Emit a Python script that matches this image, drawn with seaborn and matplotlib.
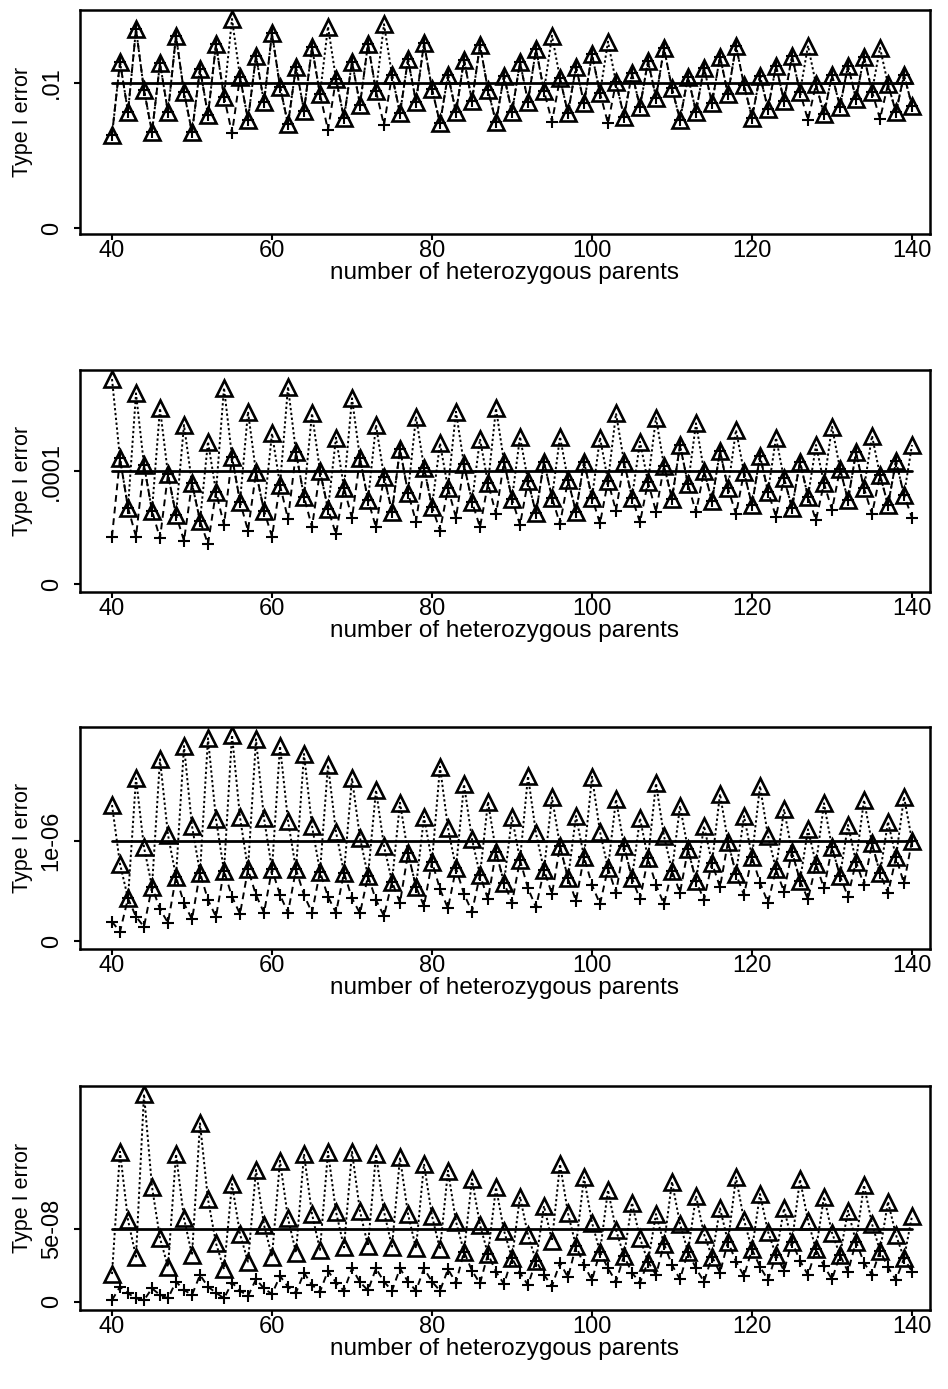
import numpy as np
import seaborn as sns
import matplotlib
matplotlib.use("Agg")
import matplotlib.pyplot as plt

# number of heterozygous parents
n_parents = list(range(40, 141))

# reference levels (nominal alpha) of the four panels
alpha_levels = [1e-2, 1e-4, 1e-6, 5e-8]
ytick_text = [["0", ".01"], ["0", ".0001"], ["0", "1e-06"], ["0", "5e-08"]]
unit = [1e-2, 1e-4, 1e-6, 1e-8]

# panel 1 (alpha = .01), values in units of 1e-2
tri1 = [0.641, 1.145, 0.800, 1.372, 0.952, 0.660, 1.136, 0.798, 1.326, 0.936,
        0.660, 1.097, 0.779, 1.267, 0.906, 1.441, 1.043, 0.745, 1.188, 0.867,
        1.343, 0.975, 0.715, 1.113, 0.807, 1.246, 0.922, 1.389, 1.028, 0.757,
        1.147, 0.850, 1.270, 0.945, 1.405, 1.055, 0.791, 1.163, 0.871, 1.274,
        0.959, 0.722, 1.055, 0.798, 1.159, 0.876, 1.262, 0.952, 0.729, 1.050,
        0.798, 1.143, 0.871, 1.234, 0.945, 1.326, 1.032, 0.791, 1.113, 0.860,
        1.198, 0.929, 1.285, 1.005, 0.768, 1.067, 0.834, 1.152, 0.899, 1.239,
        0.963, 0.745, 1.043, 0.802, 1.106, 0.860, 1.182, 0.922, 1.257, 0.986,
        0.761, 1.050, 0.821, 1.120, 0.876, 1.188, 0.936, 1.257, 0.991, 0.784,
        1.055, 0.837, 1.120, 0.890, 1.182, 0.941, 1.243, 0.991, 0.798, 1.055,
        0.844]
plus1 = [0.641, 1.145, 0.800, 1.372, 0.952, 0.660, 1.136, 0.798, 1.326, 0.936,
         0.660, 1.097, 0.779, 1.267, 0.906, 0.653, 1.043, 0.745, 1.188, 0.867,
         1.343, 0.975, 0.715, 1.113, 0.807, 1.246, 0.922, 0.676, 1.028, 0.757,
         1.147, 0.850, 1.270, 0.945, 0.710, 1.055, 0.791, 1.163, 0.871, 1.274,
         0.959, 0.722, 1.055, 0.798, 1.159, 0.876, 1.262, 0.952, 0.729, 1.050,
         0.798, 1.143, 0.871, 1.234, 0.945, 0.733, 1.032, 0.791, 1.113, 0.860,
         1.198, 0.929, 0.722, 1.005, 0.768, 1.067, 0.834, 1.152, 0.899, 1.239,
         0.963, 0.745, 1.043, 0.802, 1.106, 0.860, 1.182, 0.922, 1.257, 0.986,
         0.761, 1.050, 0.821, 1.120, 0.876, 1.188, 0.936, 0.745, 0.991, 0.784,
         1.055, 0.837, 1.120, 0.890, 1.182, 0.941, 0.752, 0.991, 0.798, 1.055,
         0.844]

# panel 2 (alpha = .0001), units of 1e-4
tri2 = [1.814, 1.112, 0.676, 1.687, 1.053, 0.649, 1.555, 0.971, 0.611, 1.407,
        0.891, 0.560, 1.260, 0.817, 1.737, 1.127, 0.728, 1.525, 0.988, 0.649,
        1.333, 0.876, 1.746, 1.165, 0.773, 1.510, 1.000, 0.664, 1.295, 0.852,
        1.643, 1.112, 0.743, 1.407, 0.950, 0.640, 1.195, 0.808, 1.481, 1.029,
        0.684, 1.245, 0.847, 1.525, 1.059, 0.728, 1.283, 0.891, 1.555, 1.082,
        0.752, 1.304, 0.912, 0.626, 1.082, 0.764, 1.304, 0.920, 0.640, 1.082,
        0.764, 1.295, 0.912, 1.510, 1.082, 0.764, 1.259, 0.903, 1.472, 1.047,
        0.752, 1.230, 0.882, 1.422, 1.000, 0.735, 1.177, 0.847, 1.363, 0.988,
        0.699, 1.135, 0.817, 1.295, 0.935, 0.676, 1.082, 0.773, 1.230, 0.891,
        1.392, 1.018, 0.743, 1.165, 0.847, 1.312, 0.965, 0.699, 1.088, 0.788,
        1.230]
plus2 = [0.419, 1.112, 0.676, 0.419, 1.053, 0.649, 0.404, 0.971, 0.611, 0.383,
         0.891, 0.560, 0.354, 0.817, 0.522, 1.127, 0.728, 0.472, 0.988, 0.649,
         0.419, 0.876, 0.575, 1.165, 0.773, 0.502, 1.000, 0.664, 0.442, 0.852,
         0.581, 1.112, 0.743, 0.502, 0.950, 0.640, 1.195, 0.808, 0.552, 1.029,
         0.684, 0.472, 0.847, 0.587, 1.059, 0.728, 0.502, 0.891, 0.617, 1.082,
         0.752, 0.522, 0.912, 0.626, 1.082, 0.764, 0.531, 0.920, 0.640, 1.082,
         0.764, 0.537, 0.912, 0.649, 1.082, 0.764, 0.546, 0.903, 0.640, 1.047,
         0.752, 1.230, 0.882, 0.634, 1.000, 0.735, 1.177, 0.847, 0.617, 0.988,
         0.699, 1.135, 0.817, 0.596, 0.935, 0.676, 1.082, 0.773, 0.566, 0.891,
         0.655, 1.018, 0.743, 1.165, 0.847, 0.617, 0.965, 0.699, 1.088, 0.788,
         0.587]

# panel 3 (alpha = 1e-06), units of 1e-6
tri3 = [1.360, 0.770, 0.427, 1.627, 0.937, 0.543, 1.817, 1.060, 0.643, 1.950,
        1.150, 0.683, 2.027, 1.217, 0.703, 2.060, 1.237, 0.717, 2.017, 1.227,
        0.717, 1.950, 1.203, 0.717, 1.870, 1.150, 0.693, 1.760, 1.093, 0.683,
        1.627, 1.032, 0.650, 1.510, 0.950, 0.593, 1.383, 0.877, 0.543, 1.243,
        0.793, 1.743, 1.127, 0.727, 1.567, 1.017, 0.660, 1.393, 0.893, 0.583,
        1.237, 0.810, 1.650, 1.077, 0.710, 1.437, 0.950, 0.627, 1.250, 0.843,
        1.643, 1.093, 0.727, 1.417, 0.950, 0.627, 1.227, 0.827, 1.577, 1.050,
        0.703, 1.350, 0.917, 0.603, 1.150, 0.783, 1.470, 0.993, 0.670, 1.250,
        0.843, 1.550, 1.050, 0.717, 1.317, 0.893, 0.603, 1.117, 0.770, 1.377,
        0.937, 0.650, 1.160, 0.793, 1.410, 0.977, 0.677, 1.193, 0.837, 1.443,
        1.003]
plus3 = [0.193, 0.093, 0.427, 0.243, 0.143, 0.543, 0.317, 0.183, 0.643, 0.377,
         0.217, 0.683, 0.410, 0.243, 0.703, 0.443, 0.270, 0.717, 0.460, 0.283,
         0.717, 0.460, 0.283, 0.717, 0.460, 0.283, 0.693, 0.443, 0.283, 0.683,
         0.427, 0.277, 0.650, 0.410, 0.250, 0.593, 0.383, 0.877, 0.543, 0.350,
         0.793, 0.517, 0.327, 0.727, 0.470, 0.293, 0.660, 0.417, 0.893, 0.583,
         0.383, 0.810, 0.527, 0.337, 0.710, 0.470, 0.950, 0.627, 0.403, 0.843,
         0.560, 0.370, 0.727, 0.483, 0.950, 0.627, 0.417, 0.827, 0.560, 0.370,
         0.703, 0.483, 0.917, 0.603, 0.410, 0.783, 0.537, 0.993, 0.670, 0.460,
         0.843, 0.583, 0.383, 0.717, 0.493, 0.893, 0.603, 0.417, 0.770, 0.527,
         0.937, 0.650, 0.443, 0.793, 0.560, 0.977, 0.677, 0.477, 0.837, 0.577,
         1.003]

# panel 4 (alpha = 5e-08), units of 1e-8
tri4 = [1.88, 10.26, 5.58, 3.07, 14.21, 7.86, 4.33, 2.38, 10.10, 5.70,
        3.18, 12.20, 7.00, 3.99, 2.21, 8.05, 4.62, 2.73, 9.01, 5.24,
        3.07, 9.64, 5.70, 3.34, 10.10, 5.99, 3.53, 10.26, 6.15, 3.71,
        10.26, 6.18, 3.80, 10.10, 6.15, 3.75, 9.87, 5.99, 3.64, 9.42,
        5.86, 3.57, 8.96, 5.47, 3.41, 8.37, 5.24, 3.25, 7.82, 4.85,
        2.96, 7.18, 4.55, 2.79, 6.54, 4.16, 9.42, 6.04, 3.80, 8.51,
        5.40, 3.41, 7.64, 4.90, 3.12, 6.77, 4.33, 2.73, 5.99, 3.94,
        8.21, 5.31, 3.41, 7.23, 4.62, 3.07, 6.38, 4.10, 8.51, 5.58,
        3.57, 7.36, 4.78, 3.18, 6.38, 4.10, 8.37, 5.53, 3.57, 7.18,
        4.71, 3.18, 6.22, 4.10, 7.98, 5.31, 3.48, 6.84, 4.55, 2.96,
        5.86]
plus4 = [0.10, 1.01, 0.56, 0.22, 0.10, 0.90, 0.45, 0.22, 1.36, 0.79,
         0.45, 1.82, 1.01, 0.60, 0.22, 1.29, 0.74, 0.38, 1.52, 0.90,
         0.51, 1.75, 1.01, 0.60, 1.97, 1.13, 0.67, 2.11, 1.29, 0.74,
         2.27, 1.33, 0.76, 2.27, 1.36, 0.74, 2.27, 1.36, 0.74, 2.27,
         1.36, 0.74, 2.21, 1.29, 3.41, 2.11, 1.24, 3.25, 2.04, 1.20,
         2.96, 1.97, 1.13, 2.79, 1.82, 1.06, 2.66, 1.66, 3.80, 2.50,
         1.47, 3.41, 2.27, 1.36, 3.12, 1.97, 1.29, 2.73, 1.82, 3.94,
         2.50, 1.52, 3.41, 2.27, 1.36, 3.07, 1.97, 4.10, 2.73, 1.75,
         3.57, 2.38, 1.47, 3.18, 2.11, 4.10, 2.79, 1.82, 3.57, 2.43,
         1.52, 3.18, 2.04, 4.10, 2.66, 1.82, 3.48, 2.34, 1.47, 2.96,
         2.04]

triangles = [tri1, tri2, tri3, tri4]
pluses = [plus1, plus2, plus3, plus4]

# y-limits of each panel, in the same units as above
ylims = [(-0.041, 1.503), (-0.071, 1.894), (-0.08, 2.14), (-0.58, 14.76)]

sns.set_theme(style="ticks")
plt.rcParams["font.family"] = ["Liberation Sans", "DejaVu Sans"]
plt.rcParams["text.color"] = "black"
plt.rcParams["axes.labelcolor"] = "black"

W, H = 948, 1389
fig = plt.figure(figsize=(W / 100, H / 100), dpi=100)

# panel boxes in pixels: (top, bottom)
boxes = [(10, 234), (370, 592), (727, 949), (1086, 1310)]
left_px, right_px = 80, 930

for i in range(4):
    top, bot = boxes[i]
    ax = fig.add_axes([left_px / W, (H - bot) / H,
                       (right_px - left_px) / W, (bot - top) / H])
    u = unit[i]
    tri = np.array(triangles[i]) * u
    plu = np.array(pluses[i]) * u

    sns.lineplot(x=n_parents, y=plu, ax=ax, color="black", lw=1.4,
                 linestyle=(0, (3.5, 2.5)), marker="+", ms=8,
                 mec="black", mew=1.5)
    sns.lineplot(x=n_parents, y=tri, ax=ax, color="black", lw=1.4,
                 linestyle=(0, (1.2, 1.3)), marker="^", ms=11,
                 mfc="none", mec="black", mew=1.9)
    sns.lineplot(x=[40, 140], y=[alpha_levels[i]] * 2, ax=ax,
                 color="black", lw=2.0)

    ax.set_xlim(36, 142.25)
    ax.set_ylim(ylims[i][0] * u, ylims[i][1] * u)
    ax.set_xticks([40, 60, 80, 100, 120, 140])
    ax.set_yticks([0, alpha_levels[i]])
    ax.set_yticklabels(ytick_text[i])
    for s in ax.spines.values():
        s.set_visible(True)
        s.set_linewidth(1.8)
        s.set_color("black")
    ax.tick_params(axis="both", direction="out", length=4.5, width=1.5,
                   colors="black", labelsize=17)
    ax.tick_params(axis="x", pad=0)
    ax.tick_params(axis="y", pad=8, labelrotation=90)
    for t in ax.get_yticklabels():
        t.set_va("center")
    ax.set_xlabel("number of heterozygous parents", fontsize=17.5, labelpad=0)
    ax.set_ylabel("Type I error", fontsize=15.5)
    ax.yaxis.set_label_coords(-0.055, 0.5)

fig.savefig("out.png", dpi=100)
